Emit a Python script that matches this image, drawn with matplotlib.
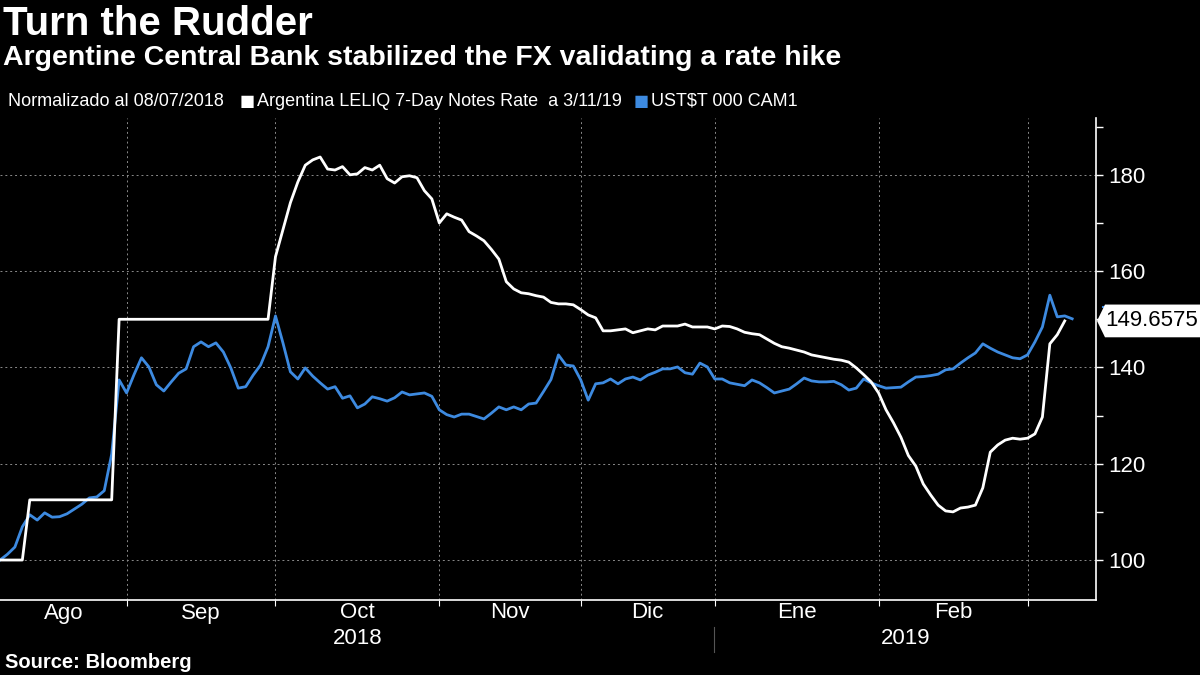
import matplotlib
matplotlib.use("Agg")
import matplotlib.pyplot as plt
from matplotlib.patches import Polygon
from matplotlib.transforms import blended_transform_factory
from matplotlib.lines import Line2D

# datos normalizados (indice = dia habil desde 08/07/2018)
leliq = [100, 100, 100, 100,
         112.5, 112.5, 112.5, 112.5, 112.5, 112.5, 112.5, 112.5, 112.5, 112.5, 112.5, 112.5,
         150, 150, 150, 150, 150, 150, 150, 150, 150, 150, 150, 150, 150, 150, 150, 150,
         150, 150, 150, 150, 150,
         163, 168.6, 174.2, 178.5, 182, 183.1, 183.7, 181.2, 181, 181.7, 180, 180.2, 181.5,
         181, 182, 179.2, 178.3, 179.6, 179.8, 179.4, 176.7, 175, 170, 171.9, 171.2, 170.6,
         168.2, 167.3, 166.3, 164.5, 162.5, 157.8, 156.3, 155.5, 155.3, 154.9, 154.6, 153.5,
         153.2, 153.2, 153.0, 152.0, 150.9, 150.3, 147.6, 147.6, 147.8, 148.0, 147.2, 147.6,
         148.0, 147.8, 148.6, 148.6, 148.6, 149.0, 148.4, 148.4, 148.4, 148.0, 148.6, 148.5,
         148.0, 147.3, 147.0, 146.8, 145.9, 145.0, 144.3, 144.0, 143.6, 143.2, 142.6, 142.3,
         142.0, 141.7, 141.5, 141.1, 139.9, 138.5, 137.0, 134.7, 131.2, 128.5, 125.5, 121.7,
         119.5, 115.8, 113.5, 111.4, 110.2, 110.0, 110.8, 111.0, 111.4, 115.0, 122.4, 123.9,
         124.9, 125.3, 125.1, 125.3, 126.2, 129.7, 144.9, 146.8, 149.6575]

usdars = [100, 101.2, 102.7, 106.9, 109.4, 108.3, 109.8, 108.9, 109.0, 109.6, 110.6, 111.6,
          112.9, 113.1, 114.4, 122.0, 137.4, 134.7, 138.5, 142.0, 140.1, 136.4, 135.1, 137.0,
          138.8, 139.7, 144.3, 145.3, 144.3, 145.1, 143.2, 139.9, 135.7, 136.0, 138.4, 140.5,
          144.3, 150.7, 145.1, 139.1, 137.6, 139.9, 138.2, 136.8, 135.5, 136.0, 133.6, 134.1,
          131.6, 132.4, 133.9, 133.5, 133.0, 133.7, 134.9, 134.3, 134.5, 134.7, 134.0, 131.2,
          130.2, 129.7, 130.3, 130.3, 129.8, 129.3, 130.5, 131.8, 131.2, 131.8, 131.2, 132.4,
          132.6, 135.0, 137.5, 142.6, 140.5, 140.3, 137.4, 133.2, 136.6, 136.8, 137.6, 136.6,
          137.6, 138.0, 137.4, 138.4, 139.0, 139.7, 139.7, 140.1, 138.9, 138.6, 140.9, 140.1,
          137.6, 137.6, 136.8, 136.5, 136.2, 137.4, 136.8, 135.8, 134.7, 135.1, 135.5, 136.6,
          137.8, 137.2, 137.0, 137.0, 137.1, 136.4, 135.3, 135.7, 137.6, 136.8, 136.2, 135.7,
          135.8, 135.9, 137.0, 138.0, 138.1, 138.3, 138.6, 139.5, 139.7, 140.9, 142.0, 143.0,
          144.9, 144.0, 143.2, 142.6, 142.0, 141.8, 142.6, 145.3, 148.4, 155.0, 150.5, 150.7,
          150.1]

month_starts = [0, 17, 37, 59, 78, 96, 118, 138]
month_labels = ["Ago", "Sep", "Oct", "Nov", "Dic", "Ene", "Feb"]
year_labels = ["2018", "2019"]
yticks = [100, 120, 140, 160, 180]

BLUE = "#3d8ae0"
GRID = "#8a8a8a"
plt.rcParams["font.family"] = ["Liberation Sans", "DejaVu Sans"]

fig = plt.figure(figsize=(12, 6.75), dpi=100, facecolor="black")
ax = fig.add_axes([0.0, 75 / 675, 1096 / 1200, 482 / 675], facecolor="black")

ax.plot(range(len(usdars)), usdars, color=BLUE, lw=2, zorder=3)
ax.plot(range(len(leliq)), leliq, color="white", lw=2, zorder=4)

xmax = 147.2
ax.set_xlim(0, xmax)
ax.set_ylim(91.7, 191.8)

# ejes
for s in ["top", "left"]:
    ax.spines[s].set_visible(False)
ax.spines["right"].set_color("white")
ax.spines["bottom"].set_color("white")
ax.spines["right"].set_linewidth(1.2)
ax.spines["bottom"].set_linewidth(1.2)

ax.yaxis.tick_right()
ax.set_yticks(yticks)
ax.set_yticks([110, 130, 150, 170, 190], minor=True)
ax.tick_params(axis="y", which="both", colors="white", labelsize=16, length=5, width=1, pad=4)

ax.set_xticks(month_starts[1:])
ax.set_xticklabels([])
ax.tick_params(axis="x", colors="white", length=4, width=0.8)

ax.grid(True, color=GRID, lw=0.7, ls=(0, (2, 3)))
ax.set_axisbelow(True)

# etiquetas de meses y años
trans = blended_transform_factory(ax.transData, fig.transFigure)
bounds = month_starts + [138 + (138 - 118)]
for i, lab in enumerate(month_labels):
    cx = (bounds[i] + bounds[i + 1]) / 2
    ax.text(cx, 1 - 613 / 675, lab, transform=trans, color="white", fontsize=16,
            ha="center", va="center")
ax.text(month_starts[5] / 2, 1 - 638 / 675, year_labels[0], transform=trans,
        color="white", fontsize=16, ha="center", va="center")
ax.text((month_starts[5] + xmax) / 2, 1 - 638 / 675, year_labels[1], transform=trans,
        color="white", fontsize=16, ha="center", va="center")
fig.add_artist(Line2D([714 / 1200, 714 / 1200], [1 - 627 / 675, 1 - 652 / 675],
                      color="#555555", lw=0.8))

# etiqueta del último valor
last = leliq[-1]
tr2 = blended_transform_factory(fig.transFigure, ax.transData)
h = 3.4
fig.add_artist(Line2D([1103 / 1200, 1.0], [152.6, 152.6], transform=tr2, color=BLUE, lw=1.5))
poly = Polygon([(1097 / 1200, last), (1105 / 1200, last + h), (1.0, last + h),
                (1.0, last - h), (1105 / 1200, last - h)],
               closed=True, transform=tr2, facecolor="white", edgecolor="none",
               clip_on=False, zorder=10)
fig.add_artist(poly)
fig.text(1152 / 1200, last, f"{last:.4f}", transform=tr2, color="black", fontsize=16,
         ha="center", va="center", zorder=11)

# títulos
fig.text(3 / 1200, 1 - 5 / 675, "Turn the Rudder", color="white", fontsize=29,
         fontweight="bold", va="top", ha="left")
fig.text(3 / 1200, 1 - 45 / 675, "Argentine Central Bank stabilized the FX validating a rate hike",
         color="white", fontsize=20.5, fontweight="bold", va="top", ha="left")

# leyenda: textos encadenados
ly = 1 - 101 / 675
items = [("Normalizado al 08/07/2018", "white", None, 16),
         ("\u25a0", "white", ["DejaVu Sans"], 2),
         ("Argentina LELIQ 7-Day Notes Rate  a 3/11/19", "white", None, 12),
         ("\u25a0", BLUE, ["DejaVu Sans"], 2),
         ("UST$T 000 CAM1", "white", None, 0)]
renderer = fig.canvas.get_renderer()
xpix = 8
for txt, col, fam, gap in items:
    kw = {"family": fam} if fam else {}
    size = 11.5 if fam else 13
    t = fig.text(xpix / 1200, ly, txt, color=col, fontsize=size, va="center", **kw)
    xpix = t.get_window_extent(renderer).x1 + gap

fig.text(5 / 1200, 1 - 663 / 675, "Source: Bloomberg", color="white", fontsize=14.5,
         fontweight="bold", va="center", ha="left")

fig.savefig("out.png", dpi=100, facecolor="black")
